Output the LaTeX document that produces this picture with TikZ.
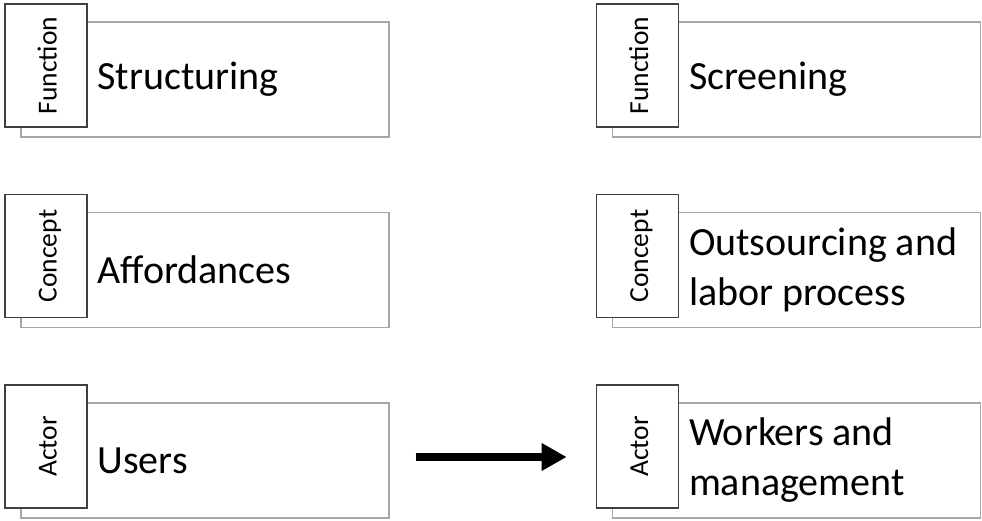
\documentclass[tikz,border=0pt]{standalone}
\usepackage{fontspec}
\setmainfont{Carlito}
\usetikzlibrary{arrows.meta,positioning}

\begin{document}
\begin{tikzpicture}[x=1pt,y=1pt,
    box/.style={draw=black!35,line width=1.4pt,minimum width=368pt,minimum height=115pt,inner sep=0pt},
    tab/.style={draw=black!75,fill=white,line width=1.6pt,rotate=90,minimum width=123pt,minimum height=82pt,
      inner sep=0pt,text height=26pt,text depth=5pt,font=\fontsize{27.5}{30}\selectfont},
    body/.style={anchor=west,align=left,inner sep=0pt,font=\fontsize{40}{50}\selectfont},
    bigarrow/.style={line width=7.5pt,-{Triangle[length=25pt,width=26pt]}}]
  \useasboundingbox (0,0) rectangle (982,521);

  % left column
  \node[box] (lfun) at (205,441.5) {};
  \node[tab] (lfuntab) at ([shift={(-159,14)}]lfun.center) {Function};
  \node[body] (lfuntext) at ([xshift=77pt]lfun.west) {Structuring};

  \node[box] (lcon) at (205,251) {};
  \node[tab] (lcontab) at ([shift={(-159,14)}]lcon.center) {Concept};
  \node[body] (lcontext) at ([xshift=77pt]lcon.west) {Affordances};

  \node[box] (lact) at (205,60.5) {};
  \node[tab] (lacttab) at ([shift={(-159,14)}]lact.center) {Actor};
  \node[body] (lacttext) at ([xshift=77pt]lact.west) {Users};

  % right column
  \node[box] (rfun) at (796.5,441.5) {};
  \node[tab] (rfuntab) at ([shift={(-159,14)}]rfun.center) {Function};
  \node[body] (rfuntext) at ([xshift=77pt]rfun.west) {Screening};

  \node[box] (rcon) at (796.5,251) {};
  \node[tab] (rcontab) at ([shift={(-159,14)}]rcon.center) {Concept};
  \node[body] (rcontext) at ([xshift=77pt]rcon.west) {Outsourcing and\\labor process};

  \node[box] (ract) at (796.5,60.5) {};
  \node[tab] (racttab) at ([shift={(-159,14)}]ract.center) {Actor};
  \node[body] (racttext) at ([xshift=77pt]ract.west) {Workers and\\management};

  \path (lact.east -| racttab.north) coordinate (arrowend);
  \draw[bigarrow] ([shift={(26pt,3.5pt)}]lact.east) -- ([shift={(-29pt,3.5pt)}]arrowend);
\end{tikzpicture}
\end{document}
